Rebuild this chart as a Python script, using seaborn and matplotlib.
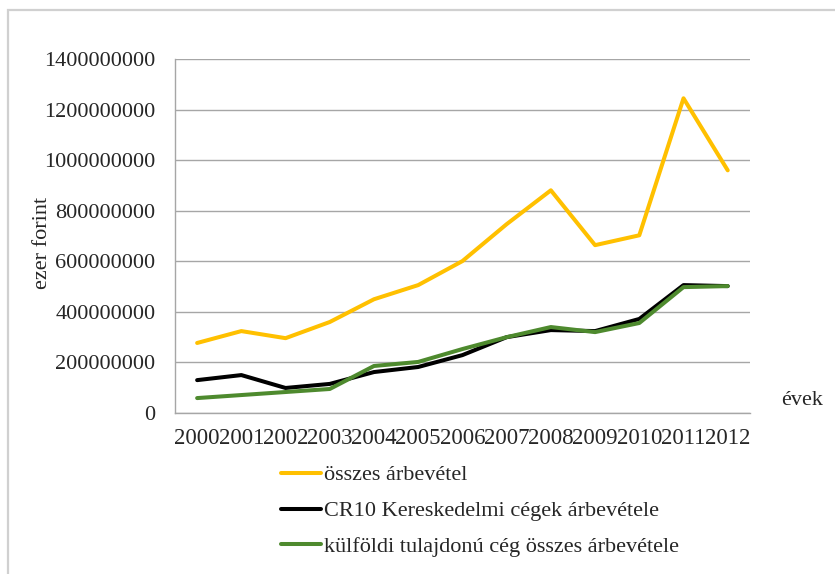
import numpy as np
import pandas as pd
import matplotlib
matplotlib.use('Agg')
import matplotlib.pyplot as plt
import seaborn as sns
from matplotlib.patches import Rectangle

# Data (ezer forint)
years = ['2000', '2001', '2002', '2003', '2004', '2005', '2006',
         '2007', '2008', '2009', '2010', '2011', '2012']
osszes = [277e6, 324e6, 296e6, 360e6, 450e6, 506e6, 601e6,
          747e6, 881e6, 664e6, 703e6, 1245e6, 960e6]
cr10 = [130e6, 150e6, 99e6, 115e6, 162e6, 182e6, 229e6,
        300e6, 328e6, 324e6, 372e6, 506e6, 502e6]
kulfoldi = [59e6, 71e6, 83e6, 95e6, 186e6, 202e6, 253e6,
            300e6, 340e6, 320e6, 356e6, 498e6, 502e6]

series_names = ['összes árbevétel',
                'CR10 Kereskedelmi cégek árbevétele',
                'külföldi tulajdonú cég összes árbevétele']
colors = ['#FFC000', '#000000', '#4E8A2E']

sns.set_style('white')
plt.rcParams['font.family'] = ['Liberation Serif', 'DejaVu Serif']

# Build a long table for seaborn
rows = []
for name, vals in zip(series_names, [osszes, cr10, kulfoldi]):
    for i, v in enumerate(vals):
        rows.append({'pos': i, 'value': v, 'series': name})
df = pd.DataFrame(rows)

fig = plt.figure(figsize=(8.35, 5.74), dpi=100)
ax = fig.add_axes([0.2096, 0.2805, 0.6884, 0.6165])

sns.lineplot(data=df, x='pos', y='value', hue='series', palette=colors,
             hue_order=series_names, linewidth=2.9, ax=ax, legend=False)

ax.set_xlim(-0.5, len(years) - 0.5)
ax.set_ylim(0, 1400000000)
yt = np.arange(0, 1400000001, 200000000)
ax.set_yticks(yt)
ax.set_yticklabels([str(int(v)) for v in yt], fontsize=16)
ax.yaxis.grid(True, color='#a6a6a6', linewidth=1.0)
ax.set_axisbelow(True)

# category ticks at boundaries, labels at centers
ax.set_xticks(np.arange(-0.5, len(years), 1.0))
ax.set_xticklabels([])
ax.set_xticks(np.arange(len(years)), minor=True)
ax.set_xticklabels(years, minor=True, fontsize=16.5)
ax.tick_params(axis='x', which='major', direction='out', length=6,
               color='#a6a6a6', width=1)
ax.tick_params(axis='x', which='minor', length=0, pad=11)
ax.tick_params(axis='y', direction='out', length=5, color='#a6a6a6',
               width=1, pad=9)

for side in ['top', 'right']:
    ax.spines[side].set_visible(False)
for side in ['left', 'bottom']:
    ax.spines[side].set_color('#a6a6a6')
    ax.spines[side].set_linewidth(1.0)

ax.set_xlabel('')
ax.set_ylabel('ezer forint', fontsize=16)
ax.yaxis.set_label_coords(-0.214, 0.48)
fig.text(0.935, 0.302, 'évek', fontsize=16, ha='left', va='center')

# legend below the plot
handles = [plt.Line2D([], [], color=c, linewidth=2.9) for c in colors]
fig.legend(handles, series_names, loc='upper left',
           bbox_to_anchor=(0.337, 0.19), frameon=False, fontsize=16,
           handlelength=1.8, handletextpad=0.1, labelspacing=0.69,
           borderaxespad=0, borderpad=0)

# light frame around the chart (only top and left edges are visible)
fig.patches.append(Rectangle((8 / 835, -0.01), 1.0, 1 - 10 / 574 + 0.01,
                             transform=fig.transFigure, fill=False,
                             edgecolor='#d0d0d0', linewidth=1.6))

fig.savefig('out.png', dpi=100)
